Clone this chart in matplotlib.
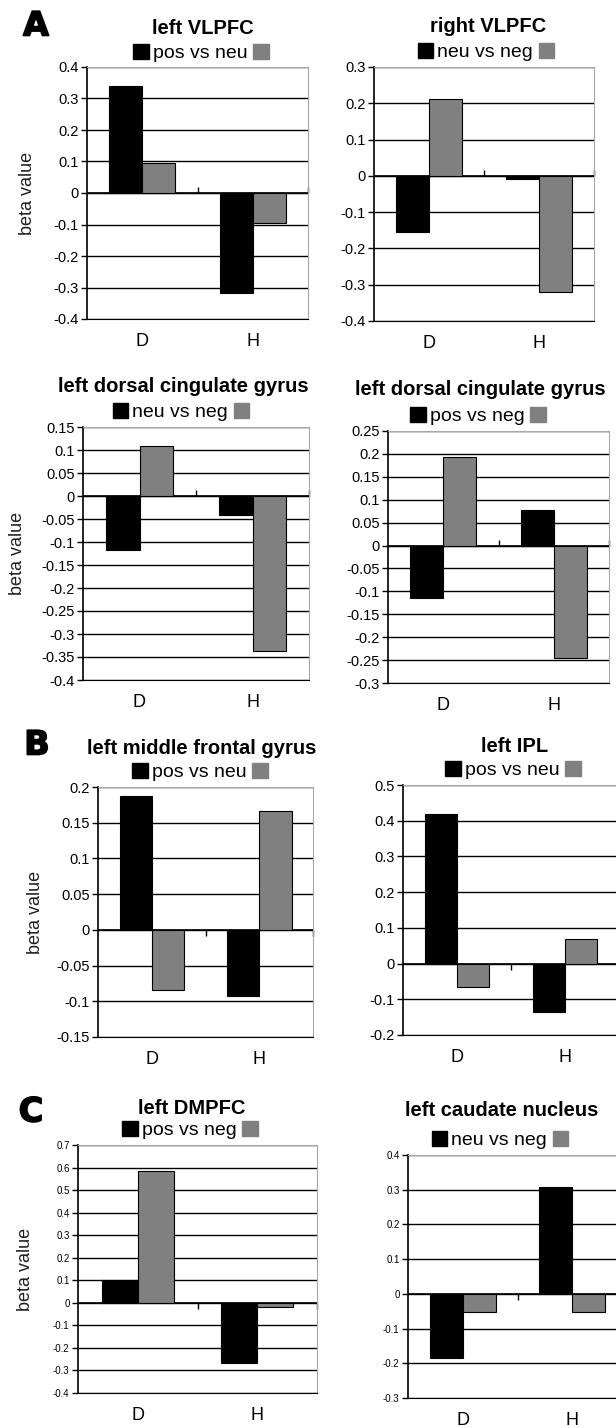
import matplotlib
matplotlib.use("Agg")
import matplotlib.pyplot as plt
import matplotlib.patheffects as pe
from matplotlib.patches import Patch
from matplotlib.ticker import MultipleLocator, FuncFormatter
import numpy as np

plt.rcParams['font.family'] = ['Liberation Sans', 'DejaVu Sans']

categories = ["D", "H"]

titles = ["left VLPFC", "right VLPFC",
          "left dorsal cingulate gyrus", "left dorsal cingulate gyrus",
          "left middle frontal gyrus", "left IPL",
          "left DMPFC", "left caudate nucleus"]
contrasts = ["pos vs neu", "neu vs neg",
             "neu vs neg", "pos vs neg",
             "pos vs neu", "pos vs neu",
             "pos vs neg", "neu vs neg"]

black_vals = [[0.341, -0.319], [-0.156, -0.009],
              [-0.118, -0.042], [-0.114, 0.077],
              [0.187, -0.092], [0.418, -0.136],
              [0.100, -0.266], [-0.185, 0.309]]
gray_vals = [[0.096, -0.095], [0.212, -0.320],
             [0.109, -0.338], [0.193, -0.246],
             [-0.084, 0.167], [-0.065, 0.068],
             [0.583, -0.019], [-0.051, -0.051]]

y_min = [-0.4, -0.4, -0.4, -0.3, -0.15, -0.2, -0.4, -0.3]
y_max = [0.4, 0.3, 0.15, 0.25, 0.2, 0.5, 0.7, 0.4]
y_step = [0.1, 0.1, 0.05, 0.05, 0.05, 0.1, 0.1, 0.1]

panel_letters = ["A", "B", "C"]

W, H = 616, 1428
fig = plt.figure(figsize=(W / 100, H / 100), dpi=100)

# axes boxes in pixels: left, top, right, bottom
boxes = [(87, 67, 308, 319), (374, 67, 594, 321),
         (83, 427, 309, 680), (388, 431, 609, 683),
         (98, 787, 313, 1037), (403, 785, 619, 1035),
         (78, 1145, 317, 1393), (408, 1155, 627, 1398)]
# title x, title y, legend y
heads = [(203, 29, 53), (488, 27, 52),
         (183, 387, 412), (480, 390, 416),
         (202, 748, 772), (515, 747, 770),
         (192, 1108, 1130), (502, 1110, 1140)]
ylabel_pos = {0: (27, 193), 2: (18, 553), 4: (35, 912), 6: (25, 1269)}
letter_pos = [(36, 26), (37, 745), (31, 1112)]


def fx(px):
    return px / W


def fy(py):
    return 1 - py / H


def fmt(v, _):
    v = round(v, 3)
    if abs(v) < 1e-9:
        return "0"
    return f"{v:g}"


x = np.arange(len(categories))
bw = 0.3

for i in range(8):
    l, t, r, b = boxes[i]
    ax = fig.add_axes([fx(l), fy(b), fx(r) - fx(l), fy(t) - fy(b)])
    ax.set_axisbelow(True)
    ax.bar(x - bw / 2, black_vals[i], bw, color="black", edgecolor="black", linewidth=0.8, zorder=3)
    ax.bar(x + bw / 2, gray_vals[i], bw, color="#808080", edgecolor="black", linewidth=0.8, zorder=3)
    ax.set_xlim(-0.5, 1.5)
    ax.set_ylim(y_min[i], y_max[i])
    ax.yaxis.set_major_locator(MultipleLocator(y_step[i]))
    ax.yaxis.set_major_formatter(FuncFormatter(fmt))
    ax.yaxis.grid(True, color="black", linewidth=1.0)
    ax.axhline(0, color="black", linewidth=1.2, zorder=2)

    ax.spines["top"].set_color("#a8a8a8")
    ax.spines["right"].set_color("#a8a8a8")
    ax.spines["left"].set_color("black")
    ax.spines["bottom"].set_color("black")
    ax.spines["left"].set_linewidth(1.2)

    tsize = 7 if i >= 6 else 10.5
    ax.tick_params(axis="y", direction="out", length=4, width=1, labelsize=tsize, pad=2)
    ax.set_xticks(x)
    ax.set_xticklabels(categories, fontsize=13)
    ax.tick_params(axis="x", length=0, pad=10)

    frac = (0 - y_min[i]) / (y_max[i] - y_min[i])
    sec = ax.secondary_xaxis(frac)
    sec.set_xticks([0.5, 1.5])
    sec.set_xticklabels([])
    sec.tick_params(direction="out", length=4, width=1, color="black")
    sec.spines["bottom"].set_visible(False)

    tx, ty, ly = heads[i]
    fig.text(fx(tx), fy(ty), titles[i], ha="center", va="center",
             fontsize=14.5, fontweight="bold")
    handles = [Patch(facecolor="black", edgecolor="black"),
               Patch(facecolor="#808080", edgecolor="#808080")]
    ax.legend(handles, [contrasts[i], ""], loc="center",
              bbox_to_anchor=(fx(tx), fy(ly)), bbox_transform=fig.transFigure,
              ncol=2, frameon=False, fontsize=14, handlelength=0.8,
              handleheight=0.8, handletextpad=0.2, columnspacing=0.3,
              borderpad=0, borderaxespad=0)

    if i in ylabel_pos:
        px, py = ylabel_pos[i]
        fig.text(fx(px), fy(py), "beta value", rotation=90, ha="center",
                 va="center", fontsize=13, color="#202020")

for k, (px, py) in enumerate(letter_pos):
    fig.text(fx(px), fy(py), panel_letters[k], ha="center", va="center",
             fontsize=24, fontweight="heavy", family="DejaVu Sans",
             path_effects=[pe.withStroke(linewidth=1.2, foreground="black")])

fig.savefig("out.png", dpi=100, facecolor="white")
